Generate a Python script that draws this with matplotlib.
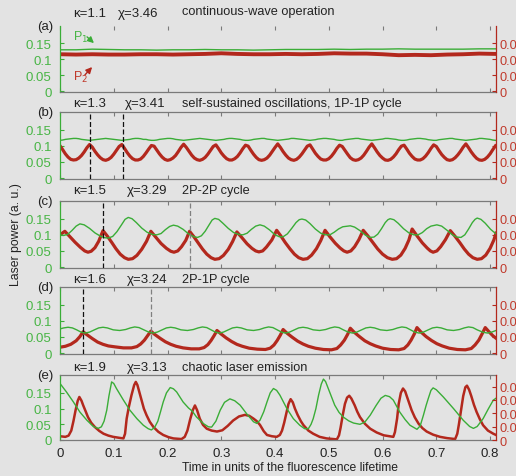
import numpy as np
import matplotlib
matplotlib.use("Agg")
import matplotlib.pyplot as plt

plt.rcParams['font.family'] = ['Liberation Sans', 'DejaVu Sans']

# ---------------- data ----------------
# (a) continuous-wave operation, sampled every 0.03
t_a = np.arange(28) * 0.03
red_a = [0.116, 0.115, 0.116, 0.115, 0.115, 0.116, 0.116, 0.115, 0.116, 0.117,
         0.119, 0.117, 0.116, 0.116, 0.117, 0.116, 0.117, 0.119, 0.118, 0.118,
         0.116, 0.113, 0.114, 0.113, 0.115, 0.116, 0.118, 0.117]
green_a = [0.130, 0.130, 0.132, 0.131, 0.130, 0.130, 0.129, 0.130, 0.130, 0.131,
           0.130, 0.130, 0.129, 0.130, 0.131, 0.131, 0.131, 0.132, 0.131, 0.132,
           0.132, 0.133, 0.132, 0.132, 0.132, 0.132, 0.133, 0.133]

# (b) 1P-1P cycle, sampled every 0.005
t_b = np.arange(163) * 0.005
red_b = [0.100, 0.088, 0.075, 0.065, 0.058, 0.056, 0.057, 0.062, 0.070, 0.081, 0.094, 0.104,
         0.096, 0.083, 0.072, 0.063, 0.057, 0.055, 0.058, 0.064, 0.074, 0.086, 0.098, 0.104,
         0.092, 0.079, 0.068, 0.060, 0.056, 0.056, 0.059, 0.067, 0.078, 0.090, 0.101, 0.099,
         0.087, 0.075, 0.065, 0.058, 0.055, 0.057, 0.062, 0.070, 0.082, 0.095, 0.105, 0.095,
         0.083, 0.071, 0.062, 0.057, 0.055, 0.058, 0.064, 0.074, 0.086, 0.098, 0.103, 0.091,
         0.078, 0.068, 0.060, 0.056, 0.056, 0.060, 0.067, 0.078, 0.091, 0.102, 0.099, 0.086,
         0.074, 0.064, 0.057, 0.055, 0.057, 0.062, 0.071, 0.083, 0.095, 0.106, 0.095, 0.082,
         0.071, 0.062, 0.057, 0.055, 0.058, 0.065, 0.075, 0.087, 0.099, 0.103, 0.090, 0.077,
         0.067, 0.059, 0.056, 0.056, 0.060, 0.068, 0.079, 0.092, 0.102, 0.098, 0.086, 0.074,
         0.063, 0.057, 0.055, 0.057, 0.062, 0.071, 0.083, 0.096, 0.106, 0.094, 0.081, 0.070,
         0.062, 0.056, 0.055, 0.058, 0.065, 0.075, 0.088, 0.099, 0.102, 0.090, 0.077, 0.067,
         0.059, 0.056, 0.056, 0.060, 0.068, 0.079, 0.092, 0.103, 0.098, 0.085, 0.073, 0.064,
         0.057, 0.055, 0.057, 0.063, 0.072, 0.083, 0.096, 0.106, 0.094, 0.081, 0.070, 0.061,
         0.056, 0.055, 0.058, 0.065, 0.075, 0.088, 0.100]
green_b = [0.117, 0.118, 0.120, 0.121, 0.122, 0.123, 0.123, 0.122, 0.120, 0.119, 0.118, 0.117,
           0.118, 0.119, 0.120, 0.121, 0.122, 0.123, 0.122, 0.121, 0.120, 0.119, 0.118, 0.117,
           0.118, 0.119, 0.120, 0.122, 0.123, 0.123, 0.122, 0.120, 0.120, 0.118, 0.117, 0.117,
           0.118, 0.120, 0.121, 0.122, 0.123, 0.123, 0.122, 0.120, 0.119, 0.118, 0.117, 0.118,
           0.119, 0.120, 0.121, 0.122, 0.123, 0.122, 0.121, 0.120, 0.119, 0.118, 0.117, 0.118,
           0.119, 0.120, 0.122, 0.123, 0.123, 0.122, 0.121, 0.120, 0.118, 0.117, 0.117, 0.118,
           0.120, 0.121, 0.122, 0.123, 0.123, 0.121, 0.120, 0.119, 0.118, 0.117, 0.118, 0.119,
           0.120, 0.121, 0.123, 0.123, 0.122, 0.121, 0.120, 0.119, 0.118, 0.117, 0.118, 0.119,
           0.121, 0.122, 0.123, 0.123, 0.122, 0.121, 0.120, 0.118, 0.117, 0.117, 0.119, 0.120,
           0.121, 0.122, 0.123, 0.123, 0.121, 0.120, 0.119, 0.118, 0.117, 0.118, 0.119, 0.120,
           0.121, 0.123, 0.123, 0.122, 0.121, 0.120, 0.118, 0.117, 0.117, 0.118, 0.120, 0.121,
           0.122, 0.123, 0.123, 0.122, 0.121, 0.119, 0.118, 0.117, 0.117, 0.119, 0.120, 0.121,
           0.122, 0.123, 0.123, 0.121, 0.120, 0.119, 0.118, 0.117, 0.118, 0.119, 0.120, 0.121,
           0.123, 0.123, 0.122, 0.121, 0.120, 0.118, 0.117]

# (c) 2P-2P cycle
t_red_c = [0.000, 0.009, 0.018, 0.028, 0.038, 0.046, 0.052, 0.058, 0.065, 0.072, 0.080,
           0.088, 0.096, 0.104, 0.112, 0.120, 0.127, 0.135, 0.143, 0.152, 0.161, 0.169,
           0.178, 0.188, 0.198, 0.206, 0.212, 0.219, 0.226, 0.234, 0.241,
           0.249, 0.257, 0.265, 0.273, 0.281, 0.288, 0.296, 0.304, 0.313, 0.321, 0.329,
           0.338, 0.348, 0.357, 0.364, 0.370, 0.377, 0.384, 0.394, 0.403,
           0.411, 0.419, 0.428, 0.436, 0.444, 0.452, 0.460, 0.468, 0.477, 0.485, 0.493,
           0.502, 0.512, 0.521, 0.528, 0.534, 0.541, 0.548, 0.556, 0.564,
           0.573, 0.582, 0.591, 0.600, 0.609, 0.618, 0.626, 0.634, 0.642, 0.649, 0.655,
           0.664, 0.674, 0.683, 0.689, 0.694, 0.701, 0.708, 0.717, 0.726,
           0.735, 0.744, 0.752, 0.760, 0.768, 0.776, 0.784, 0.792, 0.800, 0.807, 0.811]
red_c = [0.100, 0.111, 0.095, 0.077, 0.061, 0.050, 0.046, 0.049, 0.060, 0.080, 0.113,
         0.096, 0.077, 0.057, 0.040, 0.029, 0.024, 0.026, 0.036, 0.055, 0.080, 0.111,
         0.093, 0.073, 0.058, 0.049, 0.046, 0.050, 0.063, 0.083, 0.111,
         0.094, 0.075, 0.056, 0.040, 0.029, 0.024, 0.026, 0.036, 0.055, 0.079, 0.109,
         0.092, 0.072, 0.058, 0.050, 0.047, 0.050, 0.062, 0.084, 0.114,
         0.096, 0.076, 0.056, 0.040, 0.029, 0.024, 0.026, 0.037, 0.057, 0.082, 0.114,
         0.094, 0.074, 0.059, 0.050, 0.046, 0.050, 0.063, 0.085, 0.114,
         0.096, 0.076, 0.056, 0.040, 0.029, 0.024, 0.026, 0.037, 0.058, 0.084, 0.118,
         0.097, 0.075, 0.059, 0.050, 0.046, 0.050, 0.063, 0.085, 0.113,
         0.095, 0.075, 0.056, 0.040, 0.029, 0.024, 0.026, 0.037, 0.058, 0.084, 0.105]
t_green_c = [0.000, 0.006, 0.014, 0.022, 0.030, 0.037, 0.045, 0.055, 0.065, 0.075, 0.083,
             0.090, 0.098, 0.106, 0.114, 0.121, 0.127, 0.134, 0.142, 0.152, 0.162, 0.172,
             0.180, 0.188, 0.196, 0.204, 0.211, 0.219, 0.229, 0.239, 0.249, 0.256, 0.263,
             0.270, 0.277, 0.283, 0.288, 0.295, 0.303, 0.313, 0.323, 0.333, 0.340, 0.348,
             0.356, 0.364, 0.372, 0.380, 0.390, 0.400, 0.408, 0.415, 0.423, 0.431, 0.439,
             0.445, 0.450, 0.457, 0.465, 0.475, 0.485, 0.494, 0.502, 0.510, 0.518, 0.526,
             0.540, 0.548, 0.558, 0.568, 0.577, 0.584, 0.591, 0.598, 0.605, 0.610, 0.614,
             0.621, 0.629, 0.639, 0.649, 0.658, 0.666, 0.674, 0.682, 0.690, 0.701, 0.710,
             0.720, 0.730, 0.738, 0.746, 0.753, 0.760, 0.767, 0.772, 0.776, 0.783, 0.791,
             0.801, 0.811]
green_c = [0.100, 0.098, 0.101, 0.113, 0.127, 0.134, 0.131, 0.120, 0.106, 0.096, 0.091,
           0.090, 0.095, 0.110, 0.130, 0.148, 0.154, 0.150, 0.138, 0.121, 0.108, 0.101,
           0.100, 0.104, 0.116, 0.126, 0.130, 0.127, 0.117, 0.103, 0.094, 0.092, 0.097,
           0.111, 0.130, 0.146, 0.151, 0.148, 0.136, 0.120, 0.107, 0.101, 0.100, 0.105,
           0.117, 0.127, 0.131, 0.127, 0.115, 0.100, 0.094, 0.094, 0.103, 0.120, 0.138,
           0.147, 0.149, 0.146, 0.135, 0.118, 0.105, 0.100, 0.100, 0.108, 0.118, 0.125,
           0.128, 0.124, 0.113, 0.099, 0.092, 0.093, 0.102, 0.119, 0.138, 0.147, 0.150,
           0.147, 0.136, 0.119, 0.106, 0.100, 0.100, 0.107, 0.119, 0.127, 0.131, 0.127,
           0.114, 0.100, 0.093, 0.092, 0.100, 0.118, 0.138, 0.148, 0.152, 0.148, 0.136,
           0.117, 0.103]

# (d) 2P-1P cycle
t_red_d = [0.000, 0.010, 0.020, 0.030, 0.037, 0.043,
           0.050, 0.060, 0.070, 0.080, 0.090, 0.103, 0.118, 0.133, 0.143, 0.150, 0.157, 0.163, 0.169,
           0.176, 0.186, 0.196, 0.206, 0.216, 0.229, 0.244, 0.259, 0.268, 0.275, 0.281, 0.287, 0.292,
           0.299, 0.309, 0.319, 0.329, 0.339, 0.352, 0.367, 0.382, 0.391, 0.398, 0.404, 0.410, 0.415,
           0.422, 0.432, 0.442, 0.452, 0.462, 0.475, 0.490, 0.505, 0.515, 0.522, 0.529, 0.535, 0.540,
           0.547, 0.557, 0.567, 0.577, 0.587, 0.600, 0.615, 0.630, 0.640, 0.647, 0.653, 0.659, 0.664,
           0.671, 0.681, 0.691, 0.701, 0.711, 0.724, 0.739, 0.754, 0.765, 0.772, 0.779, 0.785, 0.791,
           0.798, 0.805, 0.811]
red_d = [0.018, 0.021, 0.027, 0.038, 0.051, 0.066,
         0.057, 0.045, 0.034, 0.027, 0.022, 0.019, 0.016, 0.016, 0.020, 0.028, 0.040, 0.054, 0.068,
         0.058, 0.046, 0.035, 0.027, 0.021, 0.016, 0.013, 0.013, 0.017, 0.026, 0.039, 0.055, 0.070,
         0.060, 0.047, 0.036, 0.027, 0.021, 0.015, 0.012, 0.011, 0.015, 0.025, 0.039, 0.056, 0.073,
         0.062, 0.049, 0.037, 0.028, 0.021, 0.015, 0.011, 0.010, 0.014, 0.025, 0.040, 0.058, 0.077,
         0.065, 0.051, 0.038, 0.029, 0.022, 0.015, 0.011, 0.010, 0.014, 0.025, 0.040, 0.059, 0.079,
         0.066, 0.051, 0.039, 0.029, 0.022, 0.015, 0.011, 0.010, 0.014, 0.025, 0.040, 0.059, 0.079,
         0.066, 0.054, 0.046]
t_green_d = [0.000, 0.007, 0.015, 0.023, 0.031, 0.039, 0.047, 0.055, 0.064, 0.072, 0.080, 0.088,
             0.099, 0.111, 0.122, 0.131, 0.139, 0.147, 0.156, 0.165, 0.173, 0.181, 0.190, 0.198,
             0.206, 0.214, 0.225, 0.237, 0.248, 0.257, 0.265, 0.273, 0.281, 0.289, 0.296, 0.304,
             0.313, 0.321, 0.329, 0.337, 0.348, 0.360, 0.371, 0.380, 0.388, 0.396, 0.404, 0.412,
             0.419, 0.427, 0.436, 0.444, 0.452, 0.460, 0.471, 0.483, 0.494, 0.503, 0.511, 0.519,
             0.527, 0.536, 0.544, 0.552, 0.561, 0.569, 0.577, 0.585, 0.596, 0.608, 0.619, 0.628,
             0.636, 0.644, 0.652, 0.660, 0.668, 0.676, 0.685, 0.693, 0.701, 0.709, 0.720, 0.732,
             0.743, 0.752, 0.760, 0.768, 0.776, 0.786, 0.795, 0.803, 0.811]
green_d = [0.075, 0.078, 0.080, 0.078, 0.072, 0.065, 0.062, 0.065, 0.072, 0.078, 0.080, 0.078,
           0.072, 0.070, 0.073, 0.078, 0.081, 0.079, 0.072, 0.065, 0.062, 0.065, 0.072, 0.078,
           0.080, 0.078, 0.072, 0.070, 0.073, 0.078, 0.081, 0.079, 0.072, 0.065, 0.062, 0.065,
           0.072, 0.078, 0.080, 0.078, 0.072, 0.070, 0.073, 0.078, 0.081, 0.079, 0.072, 0.065,
           0.062, 0.065, 0.072, 0.078, 0.080, 0.078, 0.072, 0.070, 0.073, 0.078, 0.081, 0.079,
           0.072, 0.065, 0.062, 0.065, 0.072, 0.078, 0.080, 0.078, 0.072, 0.070, 0.073, 0.078,
           0.081, 0.079, 0.072, 0.065, 0.062, 0.065, 0.072, 0.078, 0.080, 0.078, 0.072, 0.070,
           0.073, 0.078, 0.081, 0.079, 0.072, 0.065, 0.062, 0.065, 0.070]

# (e) chaotic laser emission
t_green_e = [0.000, 0.012, 0.025, 0.037, 0.050, 0.062, 0.071, 0.077, 0.082, 0.087, 0.091, 0.096,
             0.100, 0.105, 0.118, 0.130, 0.143, 0.155, 0.164, 0.170, 0.176, 0.182, 0.187, 0.192,
             0.198, 0.205, 0.211, 0.217, 0.229, 0.239, 0.246, 0.254, 0.267, 0.276, 0.282, 0.290,
             0.298, 0.306, 0.316, 0.325, 0.335, 0.347, 0.360, 0.366, 0.372, 0.379, 0.385, 0.391,
             0.397, 0.403, 0.409, 0.422, 0.434, 0.446, 0.455, 0.462, 0.467, 0.471, 0.476, 0.481,
             0.486, 0.490, 0.494, 0.499, 0.511, 0.519, 0.527, 0.537, 0.546, 0.558, 0.567, 0.577,
             0.588, 0.597, 0.605, 0.613, 0.620, 0.632, 0.642, 0.651, 0.664, 0.670, 0.676, 0.681,
             0.685, 0.690, 0.694, 0.700, 0.713, 0.732, 0.750, 0.762, 0.769, 0.776, 0.787, 0.797,
             0.806, 0.811]
green_e = [0.180, 0.153, 0.121, 0.089, 0.063, 0.043, 0.037, 0.042, 0.060, 0.095, 0.140, 0.185,
           0.180, 0.164, 0.127, 0.095, 0.068, 0.047, 0.036, 0.032, 0.040, 0.060, 0.090, 0.121,
           0.150, 0.167, 0.163, 0.153, 0.121, 0.102, 0.092, 0.073, 0.052, 0.042, 0.041, 0.060,
           0.095, 0.120, 0.131, 0.125, 0.111, 0.084, 0.058, 0.053, 0.063, 0.090, 0.121, 0.150,
           0.164, 0.158, 0.143, 0.100, 0.068, 0.047, 0.036, 0.036, 0.050, 0.068, 0.100, 0.143,
           0.178, 0.194, 0.186, 0.164, 0.111, 0.088, 0.073, 0.061, 0.054, 0.050, 0.057, 0.079,
           0.110, 0.133, 0.142, 0.138, 0.127, 0.089, 0.065, 0.047, 0.034, 0.045, 0.079, 0.110,
           0.132, 0.158, 0.166, 0.160, 0.137, 0.100, 0.063, 0.043, 0.037, 0.043, 0.068, 0.100,
           0.127, 0.133]
t_red_e = [0.000, 0.010, 0.016, 0.021, 0.025, 0.029, 0.033, 0.036, 0.040, 0.043, 0.048, 0.052,
           0.058, 0.065, 0.073, 0.081, 0.090, 0.099, 0.110, 0.118, 0.121, 0.124, 0.128, 0.133,
           0.138, 0.141, 0.144, 0.148, 0.152, 0.156, 0.161, 0.167, 0.174, 0.183, 0.192, 0.202,
           0.211, 0.226, 0.232, 0.237, 0.242, 0.247, 0.251, 0.255, 0.260, 0.266, 0.273, 0.282,
           0.292, 0.302, 0.312, 0.322, 0.333, 0.344, 0.352, 0.360, 0.366, 0.372, 0.379, 0.385,
           0.394, 0.403, 0.409, 0.413, 0.417, 0.421, 0.425, 0.429, 0.433, 0.437, 0.442, 0.448,
           0.453, 0.462, 0.471, 0.483, 0.496, 0.515, 0.519, 0.522, 0.526, 0.530, 0.534, 0.538,
           0.542, 0.548, 0.553, 0.558, 0.567, 0.577, 0.589, 0.602, 0.620, 0.623, 0.627, 0.630,
           0.634, 0.638, 0.642, 0.645, 0.650, 0.654, 0.660, 0.667, 0.674, 0.682, 0.694, 0.707,
           0.720, 0.735, 0.739, 0.742, 0.746, 0.750, 0.754, 0.757, 0.761, 0.765, 0.770, 0.775,
           0.781, 0.787, 0.796, 0.806, 0.811]
red_e = [0.012, 0.010, 0.014, 0.030, 0.060, 0.095, 0.125, 0.137, 0.125, 0.111, 0.090, 0.073,
         0.055, 0.041, 0.029, 0.020, 0.014, 0.010, 0.007, 0.005, 0.020, 0.068, 0.105, 0.143,
         0.175, 0.185, 0.175, 0.150, 0.125, 0.100, 0.079, 0.058, 0.041, 0.026, 0.016, 0.009,
         0.005, 0.003, 0.010, 0.030, 0.065, 0.095, 0.110, 0.095, 0.068, 0.048, 0.036, 0.030,
         0.027, 0.031, 0.045, 0.062, 0.075, 0.080, 0.077, 0.068, 0.060, 0.048, 0.028, 0.016,
         0.012, 0.010, 0.016, 0.030, 0.055, 0.085, 0.115, 0.130, 0.120, 0.100, 0.080, 0.060,
         0.047, 0.030, 0.020, 0.010, 0.005, 0.002, 0.015, 0.040, 0.080, 0.115, 0.135, 0.141,
         0.132, 0.111, 0.090, 0.073, 0.052, 0.036, 0.024, 0.015, 0.010, 0.025, 0.068, 0.115,
         0.150, 0.164, 0.155, 0.140, 0.115, 0.095, 0.072, 0.052, 0.038, 0.027, 0.017, 0.010,
         0.006, 0.003, 0.020, 0.050, 0.095, 0.140, 0.168, 0.173, 0.160, 0.140, 0.112, 0.089,
         0.066, 0.047, 0.030, 0.020, 0.016]

panel_tags = ['(a)', '(b)', '(c)', '(d)', '(e)']
kappa_labels = ['\u03ba=1.1', '\u03ba=1.3', '\u03ba=1.5', '\u03ba=1.6', '\u03ba=1.9']
chi_labels = ['\u03c7=3.46', '\u03c7=3.41', '\u03c7=3.29', '\u03c7=3.24', '\u03c7=3.13']
descriptions = ['continuous-wave operation', 'self-sustained oscillations, 1P-1P cycle',
                '2P-2P cycle', '2P-1P cycle', 'chaotic laser emission']
marker_times = [[], [0.0558, 0.117], [0.0806, 0.242], [0.0434, 0.170], []]
marker_colors = [[], ['#111111', '#111111'], ['#111111', '#808080'],
                 ['#111111', '#808080'], []]
left_ticks = [0, 0.05, 0.1, 0.15]
left_ticklabels = ['0', '0.05', '0.1', '0.15']
right_ticklabels = ['0', '0.0', '0.0', '0.0']
right_ticks_e = [0, 0.0425, 0.085, 0.1275, 0.17]
right_ticklabels_e = ['0', '0.0', '0.0', '0.0', '0.0']
x_ticks = [0, 0.1, 0.2, 0.3, 0.4, 0.5, 0.6, 0.7, 0.8]
x_ticklabels = ['0', '0.1', '0.2', '0.3', '0.4', '0.5', '0.6', '0.7', '0.8']

series = [
    (t_a, green_a, t_a, red_a),
    (t_b, green_b, t_b, red_b),
    (t_green_c, green_c, t_red_c, red_c),
    (t_green_d, green_d, t_red_d, red_d),
    (t_green_e, green_e, t_red_e, red_e),
]

# ---------------- style / layout ----------------
BG = '#e3e3e3'
GREEN = '#3aad37'
GREEN_TXT = '#48b545'
RED = '#b3281d'
RED_TXT = '#c0392b'
GRAY = '#7a7a7a'
W, H = 516, 477

tops = [27, 113, 202, 288, 376]
bottoms = [93, 180, 269, 355, 441]
text_y = [14, 104, 191, 280, 368]
chi_x = [118, 125, 127, 127, 127]
red_lw = [2.8, 2.3, 2.3, 2.3, 1.8]

fig = plt.figure(figsize=(W / 100, H / 100), dpi=100, facecolor=BG)

def fx(px):
    return px / W

def fy(py):
    return 1 - py / H

for i in range(5):
    top, bot = tops[i], bottoms[i]
    ax = fig.add_axes([fx(60), fy(bot), fx(436), (bot - top) / H])
    ax.set_facecolor(BG)
    tg, yg, tr, yr = series[i]
    ax.plot(tg, yg, color=GREEN, lw=1.0, zorder=3)
    ax.plot(tr, yr, color=RED, lw=red_lw[i], zorder=2, solid_joinstyle='round')
    for tm, mc in zip(marker_times[i], marker_colors[i]):
        ax.axvline(tm, color=mc, lw=0.9, dashes=(4, 2), zorder=4)
    ax.set_xlim(0, 0.811)
    if i == 4:
        ax.set_ylim(0, 0.207)
    else:
        ax.set_ylim(-0.003, 0.205)
    ax.set_yticks(left_ticks)
    ax.set_yticklabels(left_ticklabels)
    ax.set_xticks(x_ticks)
    if i == 4:
        ax.set_xticklabels(x_ticklabels)
    else:
        ax.set_xticklabels([])
    ax.tick_params(axis='y', direction='in', length=3, color=GREEN, labelcolor=GREEN_TXT,
                   labelsize=9.5, pad=6)
    ax.tick_params(axis='x', direction='in', length=3, color=GRAY, top=True,
                   labelsize=9.5, pad=5, labelcolor='#222222')
    ax.spines['left'].set_color(GREEN)
    ax.spines['right'].set_visible(False)
    ax.spines['top'].set_color(GRAY)
    ax.spines['bottom'].set_color(GRAY)
    if i == 0:
        ax.spines['top'].set_visible(False)
    for s in ax.spines.values():
        s.set_linewidth(0.9)

    ax2 = ax.twinx()
    ax2.set_ylim(ax.get_ylim())
    if i == 4:
        ax2.set_yticks(right_ticks_e)
        ax2.set_yticklabels(right_ticklabels_e)
    else:
        ax2.set_yticks(left_ticks)
        ax2.set_yticklabels(right_ticklabels)
    ax2.tick_params(axis='y', direction='in', length=3, color=RED, labelcolor=RED_TXT,
                    labelsize=9.2, pad=2.5)
    for name in ['left', 'top', 'bottom']:
        ax2.spines[name].set_visible(False)
    ax2.spines['right'].set_color(RED)
    ax2.spines['right'].set_linewidth(0.9)

    # texts
    fig.text(fx(53), fy(top), panel_tags[i], ha='right', va='center', fontsize=9.5,
             color='#222222')
    fig.text(fx(73), fy(text_y[i]), kappa_labels[i], ha='left', va='center', fontsize=9.5,
             color='#222222')
    fig.text(fx(chi_x[i]), fy(text_y[i]), chi_labels[i], ha='left', va='center', fontsize=9.5,
             color='#222222')
    fig.text(fx(182), fy(text_y[i] - (2 if i == 0 else 0)), descriptions[i], ha='left',
             va='center', fontsize=9.2, color='#222222')

# P labels with arrows in panel (a)
fig.text(fx(73), fy(37), 'P$_1$', color=GREEN_TXT, fontsize=9, ha='left', va='center')
fig.text(fx(73), fy(77), 'P$_2$', color=RED_TXT, fontsize=9, ha='left', va='center')
ax0 = fig.axes[0]
ax0.annotate('', xy=(96, H - 46), xycoords='figure pixels', xytext=(85, H - 36),
             textcoords='figure pixels',
             arrowprops=dict(arrowstyle='-|>', color=GREEN, lw=1.0, mutation_scale=9))
ax0.annotate('', xy=(94, H - 66), xycoords='figure pixels', xytext=(83, H - 78),
             textcoords='figure pixels',
             arrowprops=dict(arrowstyle='-|>', color=RED, lw=1.0, mutation_scale=9))

fig.text(fx(16), fy(235), 'Laser power (a. u.)', rotation=90, ha='center', va='center',
         fontsize=8.8, color='#222222')
fig.text(fx(290), fy(468), 'Time in units of the fluorescence lifetime', ha='center',
         va='center', fontsize=8.7, color='#222222')

fig.savefig('out.png', dpi=100, facecolor=BG)
